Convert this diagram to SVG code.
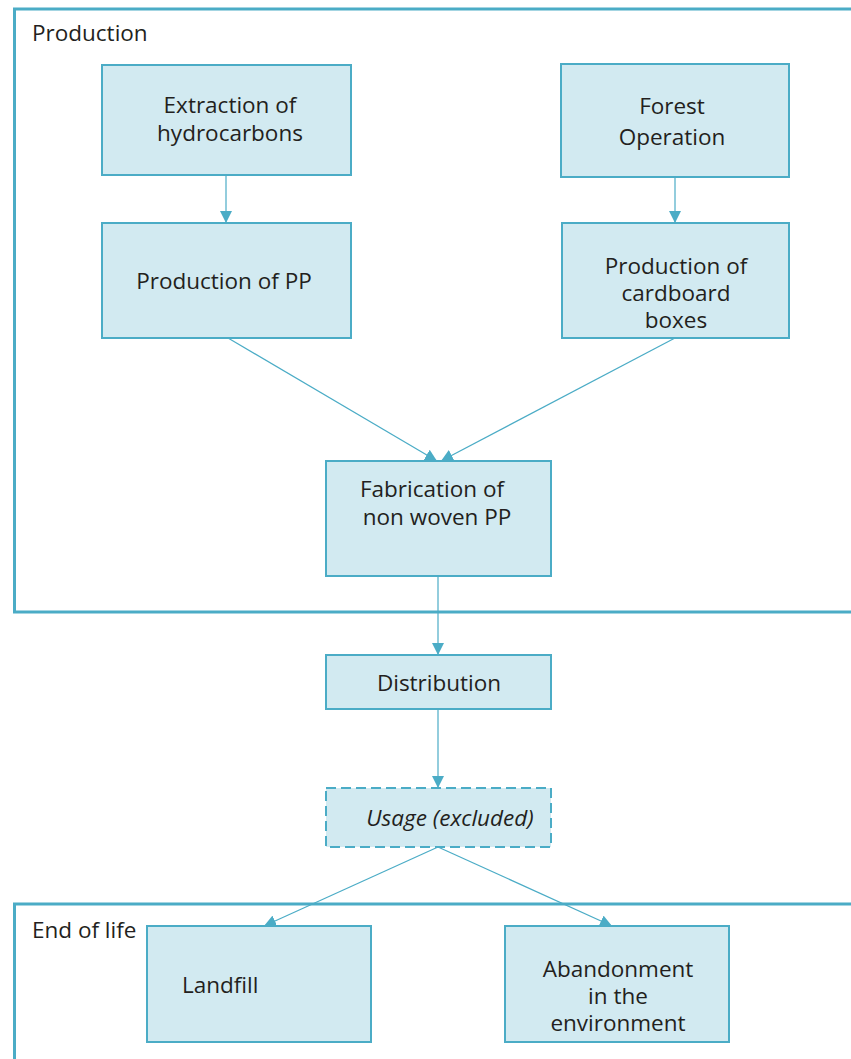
<svg xmlns="http://www.w3.org/2000/svg" width="851" height="1059" viewBox="0 0 851 1059">
<style>
.frame{fill:none;stroke:#4BACC6;stroke-width:3}
.box{fill:#D2EAF1;stroke:#4BACC6;stroke-width:2}
.dash{stroke-dasharray:10 5}
.t{font-family:"Open Sans",Lato,sans-serif;font-size:22.5px;fill:#231F20}
.c{text-anchor:middle}
.conn{stroke:#4BACC6;stroke-width:1.2;fill:none;marker-end:url(#ah)}
</style>
<defs>
<marker id="ah" viewBox="0 0 12 12" refX="12" refY="6" markerWidth="12" markerHeight="12" markerUnits="userSpaceOnUse" orient="auto">
<path d="M0,0 L12,6 L0,12 Z" fill="#4BACC6"/>
</marker>
</defs>
<rect width="851" height="1059" fill="#fff"/>
<g id="production-frame">
<path class="frame" d="M860,9 L14.5,9 L14.5,612 L860,612"/>
<text class="t" x="32" y="41">Production</text>
</g>
<g id="eol-frame">
<path class="frame" d="M860,904 L14.5,904 L14.5,1070"/>
<text class="t" x="32" y="938">End of life</text>
</g>
<g id="connectors">
<line class="conn" x1="226" y1="175" x2="226" y2="223"/>
<line class="conn" x1="675" y1="177" x2="675" y2="223"/>
<line class="conn" x1="228" y1="338" x2="437" y2="461"/>
<line class="conn" x1="675" y1="338" x2="441" y2="461"/>
<line class="conn" x1="438" y1="576" x2="438" y2="655"/>
<line class="conn" x1="438" y1="709" x2="438" y2="788"/>
<line class="conn" x1="438" y1="847" x2="264" y2="926"/>
<line class="conn" x1="438" y1="847" x2="612" y2="926"/>
</g>
<g id="extraction">
<rect class="box" x="102" y="65" width="249" height="110"/>
<text class="t c" x="230" y="113">Extraction of</text>
<text class="t c" x="230" y="141">hydrocarbons</text>
</g>
<g id="forest">
<rect class="box" x="561" y="64" width="228" height="113"/>
<text class="t c" x="672" y="114">Forest</text>
<text class="t c" x="672" y="145">Operation</text>
</g>
<g id="production-pp">
<rect class="box" x="102" y="223" width="249" height="115"/>
<text class="t c" x="224" y="289">Production of PP</text>
</g>
<g id="cardboard">
<rect class="box" x="562" y="223" width="227" height="115"/>
<text class="t c" x="676" y="274">Production of</text>
<text class="t c" x="676" y="301">cardboard</text>
<text class="t c" x="676" y="328">boxes</text>
</g>
<g id="fabrication">
<rect class="box" x="326" y="461" width="225" height="115"/>
<text class="t c" x="432" y="497">Fabrication of</text>
<text class="t c" x="437" y="525">non woven PP</text>
</g>
<g id="distribution">
<rect class="box" x="326" y="655" width="225" height="54"/>
<text class="t c" x="439" y="691">Distribution</text>
</g>
<g id="usage">
<rect class="box dash" x="326" y="788" width="225" height="59"/>
<text class="t c" x="450" y="826" font-style="italic" font-size="24px">Usage (excluded)</text>
</g>
<g id="landfill">
<rect class="box" x="147" y="926" width="224" height="116"/>
<text class="t" x="182" y="993">Landfill</text>
</g>
<g id="abandonment">
<rect class="box" x="505" y="926" width="224" height="116"/>
<text class="t c" x="618" y="977">Abandonment</text>
<text class="t c" x="618" y="1004">in the</text>
<text class="t c" x="618" y="1031">environment</text>
</g>
</svg>
